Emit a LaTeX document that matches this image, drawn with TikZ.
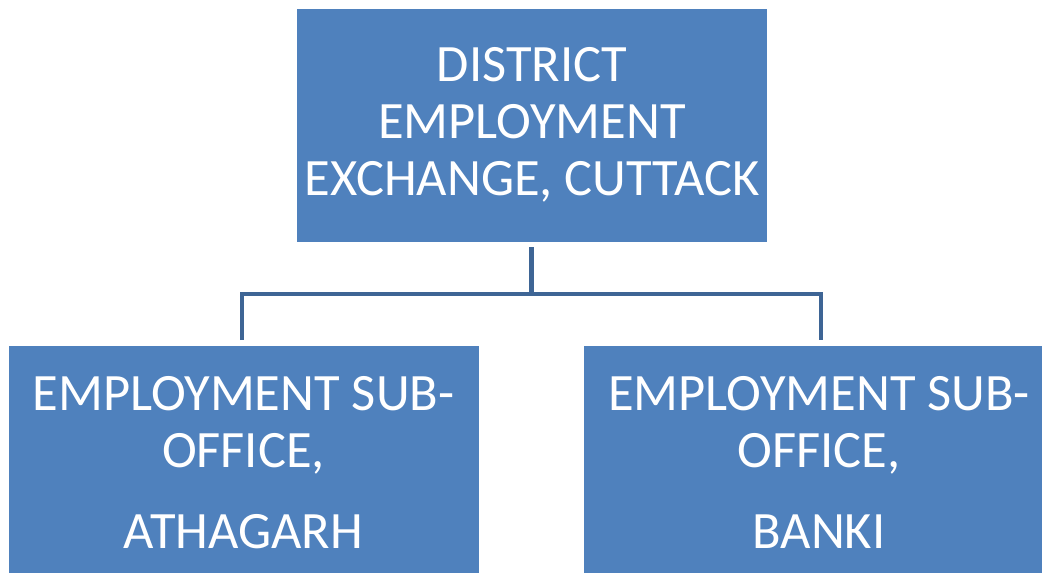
\documentclass[tikz,border=0pt]{standalone}
\usepackage{fontspec}
\setmainfont{Carlito}
\definecolor{boxblue}{RGB}{79,129,189}
\definecolor{linkblue}{RGB}{62,101,149}
\begin{document}
\begin{tikzpicture}[x=1pt,y=-1pt,
  orgbox/.style={fill=boxblue,draw=none,text=white,inner sep=0pt,
    minimum width=470pt,minimum height=233pt,align=center,
    font=\fontsize{52.5}{57}\selectfont},
  conn/.style={draw=linkblue,line width=4.5pt}]
\useasboundingbox (0,0) rectangle (1042,573);
\node[orgbox] (top) at (532,125) {DISTRICT\\EMPLOYMENT\\EXCHANGE, CUTTACK};
\node[orgbox] (left) at (243.5,462.5) {EMPLOYMENT SUB-\\OFFICE,\\[24pt]ATHAGARH};
\node[orgbox] (right) at (819,462.5) {EMPLOYMENT SUB-\\OFFICE,\\[24pt]BANKI};
\coordinate (ts) at (531.5,247);
\coordinate (tj) at (531.5,294);
\coordinate (lj) at (242,294);
\coordinate (rj) at (821,294);
\coordinate (le) at (242,340);
\coordinate (re) at (821,340);
\draw[conn] (ts) -- (tj);
\draw[conn] (le) -- (lj) -- (rj) -- (re);
\end{tikzpicture}
\end{document}
